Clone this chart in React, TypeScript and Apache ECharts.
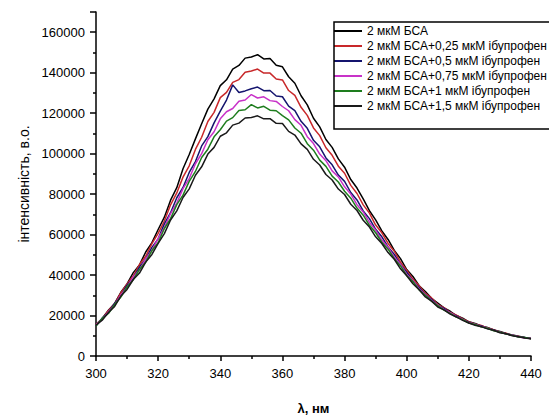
import React, { useEffect, useRef } from "react";
import * as echarts from "echarts";

const wavelengths = [
  300, 302, 304, 306, 308, 310, 312, 314, 316, 318,
  320, 322, 324, 326, 328, 330, 332, 334, 336, 338,
  340, 342, 344, 346, 348, 350, 352, 354, 356, 358,
  360, 362, 364, 366, 368, 370, 372, 374, 376, 378,
  380, 382, 384, 386, 388, 390, 392, 394, 396, 398,
  400, 402, 404, 406, 408, 410, 412, 414, 416, 418,
  420, 422, 424, 426, 428, 430, 432, 434, 436, 438, 440,
];

const seriesNames = [
  "2 мкМ БСА",
  "2 мкМ БСА+0,25 мкМ ібупрофен",
  "2 мкМ БСА+0,5 мкМ ібупрофен",
  "2 мкМ БСА+0,75 мкМ ібупрофен",
  "2 мкМ БСА+1 мкМ ібупрофен",
  "2 мкМ БСА+1,5 мкМ ібупрофен",
];

const bsa = [
  15500, 18500, 22600, 26000, 31500, 35600, 41200, 45000, 51400, 56000,
  62500, 68600, 77000, 83200, 92500, 99600, 107300, 114800, 122000, 127100,
  133600, 136500, 141800, 143600, 147200, 147800, 148900, 146800, 147000, 143700,
  142900, 138000, 134800, 128600, 124100, 117500, 113200, 107000, 103100, 97400,
  93300, 87200, 83000, 77600, 71800, 67300, 61800, 57600, 52200, 48100,
  42700, 39300, 34700, 31900, 28500, 26200, 23800, 22100, 20000, 18700,
  16900, 16100, 14800, 14100, 12900, 12100, 11100, 10400, 9800, 9100, 8700,
];

const ibu025 = [
  15600, 18400, 22400, 25800, 31200, 35600, 39600, 45200, 49300, 55500,
  60600, 66700, 74700, 80600, 88400, 94000, 102100, 108100, 115900, 120400,
  127700, 130300, 135200, 136600, 140200, 140800, 141800, 139800, 139800, 136900,
  136400, 131200, 128800, 122900, 118900, 112700, 108900, 102900, 99200, 93800,
  90300, 84300, 80300, 74700, 70600, 64700, 60900, 55600, 51800, 46400,
  42400, 38000, 34700, 30900, 28700, 25400, 23900, 21500, 20200, 18300,
  17000, 15700, 15100, 13800, 13000, 11800, 11200, 10200, 9700, 9000, 8600,
];

const ibu05 = [
  14900, 18700, 21500, 26000, 29800, 35000, 38600, 43900, 47900, 53700,
  57900, 65300, 70800, 78200, 83300, 90700, 96100, 103800, 108400, 115200,
  121000, 126500, 134000, 130200, 131000, 132100, 132900, 131100, 131200, 128500,
  128100, 123500, 121300, 116000, 112500, 106600, 103400, 97900, 94500, 89400,
  86300, 80800, 77100, 71700, 67900, 62600, 58900, 53900, 50200, 45200,
  41400, 37100, 33800, 30300, 28000, 25000, 23500, 21200, 19800, 18000,
  16700, 15500, 14800, 13600, 12900, 11700, 11000, 10300, 9500, 9200, 8600,
];

const ibu075 = [
  15400, 18100, 21800, 25000, 30200, 33900, 39100, 42500, 48000, 52200,
  58100, 63300, 70400, 75600, 82700, 87700, 95000, 100000, 106900, 110800,
  117200, 120700, 122300, 125900, 126500, 129200, 127500, 128100, 126200, 125800,
  123300, 121200, 116800, 114000, 108400, 105000, 99800, 96500, 91500, 88500,
  83600, 80000, 74800, 71200, 66000, 62200, 57300, 53700, 48900, 45200,
  40300, 37300, 33100, 30400, 27400, 25200, 22900, 21400, 19400, 18100,
  16400, 15700, 14500, 13800, 12600, 11800, 10900, 10300, 9500, 8900, 8600,
];

const ibu1 = [
  14800, 18600, 21000, 25400, 29100, 34200, 37700, 42800, 46400, 52100,
  56000, 63000, 67900, 74800, 79500, 86300, 91200, 98100, 102200, 108300,
  111800, 116100, 117800, 121300, 121700, 124200, 122600, 123400, 121500, 121200,
  118800, 116700, 112700, 110100, 104900, 101700, 96800, 93700, 88900, 86000,
  81400, 78000, 73100, 69600, 64600, 60900, 56200, 52800, 48100, 44500,
  39800, 36800, 32700, 30000, 27100, 24900, 22700, 21100, 19200, 18000,
  16300, 15600, 14400, 13700, 12500, 11800, 10900, 10200, 9400, 9100, 8500,
];

const ibu15 = [
  15200, 17700, 21500, 24500, 29600, 32900, 37800, 41000, 46400, 50200,
  55700, 60500, 67200, 71700, 78300, 82600, 89300, 93500, 99800, 103100,
  108600, 110300, 114100, 115100, 117600, 117900, 118700, 117200, 117300, 115000,
  114900, 111000, 109200, 104800, 102100, 97200, 94400, 89700, 87000, 82500,
  79800, 75000, 71900, 67100, 63700, 58900, 55600, 51100, 47800, 43100,
  39600, 35700, 32700, 29200, 27100, 24200, 22800, 20700, 19300, 17600,
  16300, 15200, 14500, 13400, 12700, 11500, 11000, 10000, 9500, 8900, 8500,
];

const seriesValues = [bsa, ibu025, ibu05, ibu075, ibu1, ibu15];
const seriesColors = ["#000000", "#c8282a", "#14146e", "#c832c8", "#1e7d1e", "#1a1a1a"];

const FONT = "Liberation Sans, Arial, sans-serif";

export default function App() {
  const ref = useRef<HTMLDivElement>(null);
  useEffect(() => {
    if (!ref.current) return;
    const chart = echarts.init(ref.current, null, { renderer: "svg" });
    chart.setOption({
      animation: false,
      backgroundColor: "#ffffff",
      grid: { left: 96, right: 18, top: 12, bottom: 57, containLabel: false },
      legend: {
        orient: "vertical",
        left: 334,
        top: 25,
        padding: 0,
        itemGap: 3,
        itemWidth: 28,
        itemHeight: 2,
        icon: "rect",
        textStyle: { fontFamily: FONT, fontSize: 12, color: "#000", lineHeight: 12 },
        data: seriesNames,
      },
      graphic: [
        {
          type: "rect",
          shape: { x: 334, y: 22, width: 240, height: 107 },
          style: { fill: "none", stroke: "#000", lineWidth: 1.5 },
          z: 10,
        },
      ],
      xAxis: {
        type: "value",
        min: 300,
        max: 440,
        interval: 20,
        name: "λ, нм",
        nameLocation: "middle",
        nameGap: 46,
        nameTextStyle: { fontFamily: FONT, fontSize: 13, fontWeight: "bold", color: "#000" },
        axisLine: { show: true, lineStyle: { color: "#000", width: 1.5 } },
        axisTick: { show: true, length: 5, lineStyle: { color: "#000", width: 1.5 } },
        minorTick: { show: true, splitNumber: 2, length: 3, lineStyle: { color: "#000", width: 1.5 } },
        axisLabel: { fontFamily: FONT, fontSize: 13, color: "#000", margin: 11 },
        splitLine: { show: false },
      },
      yAxis: {
        type: "value",
        min: 0,
        max: 170000,
        interval: 20000,
        name: "інтенсивність, в.о.",
        nameLocation: "middle",
        nameGap: 64,
        nameTextStyle: { fontFamily: FONT, fontSize: 14, color: "#000" },
        axisLine: { show: true, lineStyle: { color: "#000", width: 1.5 } },
        axisTick: { show: true, length: 6, lineStyle: { color: "#000", width: 1.5 } },
        minorTick: { show: true, splitNumber: 2, length: 3, lineStyle: { color: "#000", width: 1.5 } },
        axisLabel: {
          fontFamily: FONT,
          fontSize: 13,
          color: "#000",
          margin: 11,
          showMaxLabel: false,
          formatter: (v: number) => String(v),
        },
        splitLine: { show: false },
      },
      series: seriesValues.map((vals, k) => ({
        name: seriesNames[k],
        type: "line",
        showSymbol: false,
        symbol: "none",
        data: wavelengths.map((w, i) => [w, vals[i]]),
        lineStyle: { color: seriesColors[k], width: 1.5 },
        itemStyle: { color: seriesColors[k] },
        z: 2,
      })),
    });
    return () => chart.dispose();
  }, []);
  return (
    <div
      ref={ref}
      style={{ position: "absolute", left: 0, top: 0, width: 549, height: 420, background: "#fff" }}
    />
  );
}
